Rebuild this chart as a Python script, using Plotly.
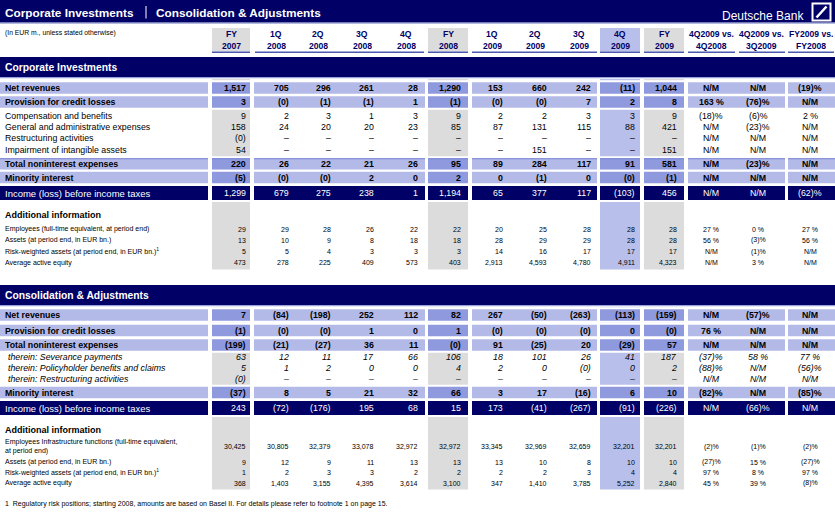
import plotly.graph_objects as go

# ---------------- data ----------------
col_head_top = ["FY", "1Q", "2Q", "3Q", "4Q", "FY", "1Q", "2Q", "3Q", "4Q", "FY",
                "4Q2009 vs.", "4Q2009 vs.", "FY2009 vs."]
col_head_bot = ["2007", "2008", "2008", "2008", "2008", "2008", "2009", "2009", "2009", "2009", "2009",
                "4Q2008", "3Q2009", "FY2008"]

ci_net_revenues = ["1,517", "705", "296", "261", "28", "1,290", "153", "660", "242", "(11)", "1,044", "N/M", "N/M", "(19)%"]
ci_provision = ["3", "(0)", "(1)", "(1)", "1", "(1)", "(0)", "(0)", "7", "2", "8", "163 %", "(76)%", "N/M"]
ci_compensation = ["9", "2", "3", "1", "3", "9", "2", "2", "3", "3", "9", "(18)%", "(6)%", "2 %"]
ci_gen_admin = ["158", "24", "20", "20", "23", "85", "87", "131", "115", "88", "421", "N/M", "(23)%", "N/M"]
ci_restructuring = ["(0)", "–", "–", "–", "–", "–", "–", "–", "–", "–", "–", "N/M", "N/M", "N/M"]
ci_impairment = ["54", "–", "–", "–", "–", "–", "–", "151", "–", "–", "151", "N/M", "N/M", "N/M"]
ci_total_nonint = ["220", "26", "22", "21", "26", "95", "89", "284", "117", "91", "581", "N/M", "(23)%", "N/M"]
ci_minority = ["(5)", "(0)", "(0)", "2", "0", "2", "0", "(1)", "0", "(0)", "(1)", "N/M", "N/M", "N/M"]
ci_income = ["1,299", "679", "275", "238", "1", "1,194", "65", "377", "117", "(103)", "456", "N/M", "N/M", "(62)%"]
ci_employees = ["29", "29", "28", "26", "22", "22", "20", "25", "28", "28", "28", "27 %", "0 %", "27 %"]
ci_assets = ["13", "10", "9", "8", "18", "18", "28", "29", "29", "28", "28", "56 %", "(3)%", "56 %"]
ci_rwa = ["5", "5", "4", "3", "3", "3", "14", "16", "17", "17", "17", "N/M", "(1)%", "N/M"]
ci_equity = ["473", "278", "225", "409", "573", "403", "2,913", "4,593", "4,780", "4,911", "4,323", "N/M", "3 %", "N/M"]

ca_net_revenues = ["7", "(84)", "(198)", "252", "112", "82", "267", "(50)", "(263)", "(113)", "(159)", "N/M", "(57)%", "N/M"]
ca_provision = ["(1)", "(0)", "(0)", "1", "0", "1", "(0)", "(0)", "(0)", "0", "(0)", "76 %", "N/M", "N/M"]
ca_total_nonint = ["(199)", "(21)", "(27)", "36", "11", "(0)", "91", "(25)", "20", "(29)", "57", "N/M", "N/M", "N/M"]
ca_severance = ["63", "12", "11", "17", "66", "106", "18", "101", "26", "41", "187", "(37)%", "58 %", "77 %"]
ca_policyholder = ["5", "1", "2", "0", "0", "4", "2", "0", "(0)", "0", "2", "(88)%", "N/M", "(56)%"]
ca_restructuring = ["(0)", "–", "–", "–", "–", "–", "–", "–", "–", "–", "–", "N/M", "N/M", "N/M"]
ca_minority = ["(37)", "8", "5", "21", "32", "66", "3", "17", "(16)", "6", "10", "(82)%", "N/M", "(85)%"]
ca_income = ["243", "(72)", "(176)", "195", "68", "15", "173", "(41)", "(267)", "(91)", "(226)", "N/M", "(66)%", "N/M"]
ca_employees = ["30,425", "30,805", "32,379", "33,078", "32,972", "32,972", "33,345", "32,969", "32,659", "32,201", "32,201", "(2)%", "(1)%", "(2)%"]
ca_assets = ["9", "12", "9", "11", "13", "13", "13", "10", "8", "10", "10", "(27)%", "15 %", "(27)%"]
ca_rwa = ["1", "2", "3", "3", "2", "2", "2", "2", "3", "4", "4", "97 %", "8 %", "97 %"]
ca_equity = ["368", "1,403", "3,155", "4,395", "3,614", "3,100", "347", "1,410", "3,785", "5,252", "2,840", "45 %", "39 %", "(8)%"]

ci_rows = [
    ("Net revenues", "bold", ci_net_revenues),
    ("Provision for credit losses", "bold", ci_provision),
    ("Compensation and benefits", "normal", ci_compensation),
    ("General and administrative expenses", "normal", ci_gen_admin),
    ("Restructuring activities", "normal", ci_restructuring),
    ("Impairment of intangible assets", "normal", ci_impairment),
    ("Total noninterest expenses", "bold", ci_total_nonint),
    ("Minority interest", "bold", ci_minority),
    ("Income (loss) before income taxes", "income", ci_income),
    ("Additional information", "heading", None),
    ("Employees (full-time equivalent, at period end)", "info", ci_employees),
    ("Assets (at period end, in EUR bn.)", "info", ci_assets),
    ("Risk-weighted assets (at period end, in EUR bn.)<sup>1</sup>", "info", ci_rwa),
    ("Average active equity", "info", ci_equity),
]
ca_rows = [
    ("Net revenues", "bold", ca_net_revenues),
    ("Provision for credit losses", "bold", ca_provision),
    ("Total noninterest expenses", "bold", ca_total_nonint),
    ("therein: Severance payments", "italic", ca_severance),
    ("therein: Policyholder benefits and claims", "italic", ca_policyholder),
    ("therein: Restructuring activities", "italic", ca_restructuring),
    ("Minority interest", "bold", ca_minority),
    ("Income (loss) before income taxes", "income", ca_income),
    ("Additional information", "heading", None),
    ("Employees Infrastructure functions (full-time equivalent,<br>at period end)", "info", ca_employees),
    ("Assets (at period end, in EUR bn.)", "info", ca_assets),
    ("Risk-weighted assets (at period end, in EUR bn.)<sup>1</sup>", "info", ca_rwa),
    ("Average active equity", "info", ca_equity),
]

title_left = "Corporate Investments"
title_right = "Consolidation & Adjustments"
brand = "Deutsche Bank"
subtitle = "(In EUR m., unless stated otherwise)"
section_names = ["Corporate Investments", "Consolidation & Adjustments"]
footnote = "1  Regulatory risk positions; starting 2008, amounts are based on Basel II. For details please refer to footnote 1 on page 15."

# ---------------- layout / style ----------------
W, H = 835, 519
NAVY = "#000066"
LIGHT = "#b4bae8"
DARK = "#8e99de"
GRAY = "#dcdcdc"
LAV = "#b8bfea"
ULINE = "#4a58b0"
FONT = "Arial, 'Liberation Sans', sans-serif"

num_right = [246, 289, 331, 374, 418, 461, 503, 547, 591, 635, 677]
pct_center = [711, 758, 810]
head_center = [231, 276, 318, 362, 406, 448, 492, 535, 579, 620, 664, 711, 761, 811]
# cell groups for bar rows: (x0, x1, emphasised)
groups = [(0, 208, False), (212, 250, True), (254, 425, False), (428, 468, True),
          (472, 597, False), (600, 640, True), (644, 684, True), (688, 785, False), (788, 835, False)]
shaded_cols = [(212, 250, GRAY), (428, 468, GRAY), (600, 640, LAV), (644, 684, GRAY)]
underlines = [(212, 250), (255, 424), (428, 468), (472, 597), (600, 640), (644, 684),
              (688, 735), (739, 785), (788, 834)]

sections = [
    dict(rows=ci_rows, bar=(57, 77), ys=[88, 102, 116, 127, 138, 149.5, 164, 177.5, 193, 215, 229, 240, 251.5, 262.5],
         shade=(79, 269.5), topline=6),
    dict(rows=ca_rows, bar=(285, 305), ys=[315, 330.5, 345, 356.5, 367.5, 378.5, 392.5, 408, 430, 446.5, 462, 472, 483],
         shade=(307, 489.5), topline=None),
]

shapes = []
ann = []


def rect(x0, y0, x1, y1, color, line=None):
    d = dict(type="rect", xref="x", yref="y", x0=x0, x1=x1, y0=y0, y1=y1,
             fillcolor=color, line=dict(width=0), layer="below")
    if line:
        d["line"] = line
        d["fillcolor"] = "rgba(0,0,0,0)"
        d["layer"] = "above"
    shapes.append(d)


def text(x, y, s, size, color="black", xanchor="left", bold=False, italic=False, align="left"):
    if bold:
        s = "<b>" + s + "</b>"
    if italic:
        s = "<i>" + s + "</i>"
    ann.append(dict(x=x, y=y, xref="x", yref="y", text=s, showarrow=False, xanchor=xanchor,
                    yanchor="middle", align=align, borderpad=0, borderwidth=0,
                    font=dict(family=FONT, size=size, color=color)))


# top header
rect(0, 0, W, 22.5, NAVY)
rect(0, 22.5, W, 23.5, "#6a74bd")
text(5, 12.5, title_left, 11.8, "white", bold=True)
shapes.append(dict(type="line", xref="x", yref="y", x0=146, x1=146, y0=6, y1=18.5,
                   line=dict(color="white", width=1)))
text(156, 12.5, title_right, 11.8, "white", bold=True)
text(804, 15.5, brand, 12, "white", xanchor="right")
rect(812.5, 3.5, 830.5, 20.5, None, line=dict(color="white", width=2))
shapes.append(dict(type="line", xref="x", yref="y", x0=816.5, y0=17.5, x1=826.5, y1=6.5,
                   line=dict(color="white", width=2.5)))

text(5, 32.5, subtitle, 6.8)

# column headers
for (x0, x1, c) in shaded_cols:
    rect(x0, 28, x1, 51.5, c)
for (x0, x1) in underlines:
    rect(x0, 51.5, x1, 53, ULINE)
for i in range(len(col_head_top)):
    text(head_center[i], 33.8, col_head_top[i], 8.6, NAVY, xanchor="center", bold=True)
    text(head_center[i], 45.5, col_head_bot[i], 8.6, NAVY, xanchor="center", bold=True)

for si, sec in enumerate(sections):
    b0, b1 = sec["bar"]
    rect(0, b0, W, b1, NAVY)
    rect(0, b1, W, b1 + 1.3, "#9aa2dc")
    text(5, (b0 + b1) / 2, section_names[si], 10.3, "white", bold=True)
    s0, s1 = sec["shade"]
    for (x0, x1, c) in shaded_cols:
        rect(x0, s0, x1, s1, c)
    for ri, ((label, kind, vals), y) in enumerate(zip(sec["rows"], sec["ys"])):
        if kind in ("bold", "income"):
            h = 14 if kind == "income" else 11.6
            y0, y1 = y - h / 2, y + h / 2
            rect(0, y0 - 2, W, y1 + 2, "white")
            for (x0, x1, emph) in groups:
                col = NAVY if kind == "income" else (DARK if emph else LIGHT)
                rect(x0, y0, x1, y1, col)
                if sec["topline"] == ri:
                    rect(x0, y0, x1, y0 + 1, "#7482d2")
        if kind == "heading":
            text(5, y, label, 9, bold=True)
            continue
        size = 7 if kind == "info" else (9.5 if kind == "income" else 8.8)
        color = "white" if kind == "income" else "black"
        bold = kind == "bold"
        italic = kind == "italic"
        lx = 8 if italic else 5
        text(lx, y, label, size, color, bold=bold, italic=italic)
        vsize = 7 if kind == "info" else 8.8
        for j, v in enumerate(vals):
            if j < len(num_right):
                text(num_right[j], y, v, vsize, color, xanchor="right", bold=bold, italic=italic)
            else:
                text(pct_center[j - len(num_right)], y, v, vsize, color, xanchor="center", bold=bold, italic=italic)

text(5, 504, footnote, 7)

fig = go.Figure(go.Scatter(x=[0, W], y=[0, H], mode="markers", marker=dict(opacity=0),
                           hoverinfo="skip", showlegend=False))
fig.update_layout(width=W, height=H, margin=dict(l=0, r=0, t=0, b=0),
                  paper_bgcolor="white", plot_bgcolor="white", showlegend=False,
                  xaxis=dict(range=[0, W], visible=False, fixedrange=True),
                  yaxis=dict(range=[H, 0], visible=False, fixedrange=True),
                  shapes=shapes, annotations=ann)
fig.write_html("out.html", config=dict(displayModeBar=False),
               post_script="document.body.style.margin='0';document.body.style.overflow='hidden';")
